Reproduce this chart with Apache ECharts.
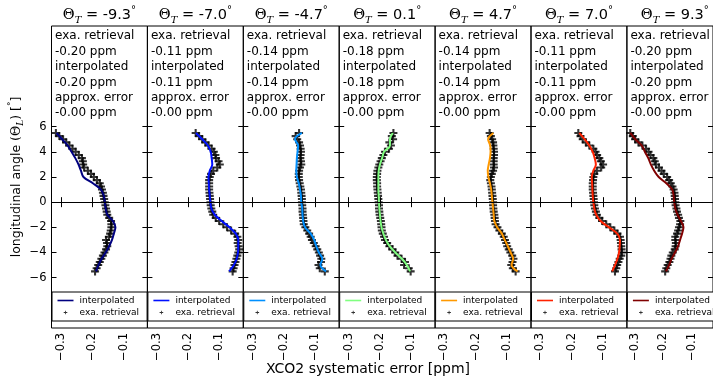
<!DOCTYPE html>
<html><head><meta charset="utf-8">
<script src="https://cdn.jsdelivr.net/npm/echarts@6/dist/echarts.min.js"></script>
<style>html,body{margin:0;padding:0;background:#fff;}#c{width:713px;height:383px;}</style>
</head><body><div id="c"></div>
<script>
// ---------------- data ----------------
const thetaT = ['-9.3', '-7.0', '-4.7', '0.1', '4.7', '7.0', '9.3'];
const exaMean = ['-0.20', '-0.11', '-0.14', '-0.18', '-0.14', '-0.11', '-0.20'];
const interpMean = ['-0.20', '-0.11', '-0.14', '-0.18', '-0.14', '-0.11', '-0.20'];
const approxErr = ['-0.00', '-0.00', '-0.00', '-0.00', '-0.00', '-0.00', '-0.00'];
const xTicks = [-0.3, -0.2, -0.1];
const yTicks = [-6, -4, -2, 0, 2, 4, 6];

// longitudinal angles of the exact retrieval points
const yExa = [5.5, 5.25, 5.0, 4.75, 4.5, 4.25, 4.0, 3.75, 3.5, 3.25, 3.0, 2.75, 2.5, 2.25, 2.0, 1.75, 1.5, 1.25, 1.0, 0.75, 0.5, 0.25, 0.0,
  -0.25, -0.5, -0.75, -1.0, -1.25, -1.5, -1.75, -2.0, -2.25, -2.5, -2.75, -3.0, -3.25, -3.5, -3.75, -4.0, -4.25, -4.5, -4.75, -5.0, -5.25, -5.5];
// longitudinal angles of the interpolated curve
const yInterp = [5.5, 5.0, 4.5, 4.0, 3.5, 3.0, 2.5, 2.0, 1.5, 1.0, 0.5, 0.0, -0.5, -1.0, -1.5, -2.0, -2.5, -3.0, -3.5, -4.0, -4.5, -5.0, -5.5];

const exa_m93 = [-0.316,-0.305,-0.293,-0.283,-0.273,-0.263,-0.253,-0.243,-0.233,-0.230,-0.229,-0.226,-0.214,-0.204,-0.195,-0.185,-0.176,-0.172,-0.169,-0.166,-0.164,-0.162,-0.160,-0.158,-0.156,-0.154,-0.152,-0.146,-0.140,-0.139,-0.139,-0.141,-0.143,-0.147,-0.156,-0.153,-0.152,-0.156,-0.161,-0.166,-0.171,-0.176,-0.181,-0.186,-0.191];
const exa_m70 = [-0.176,-0.165,-0.155,-0.145,-0.135,-0.125,-0.118,-0.113,-0.111,-0.103,-0.099,-0.107,-0.120,-0.127,-0.131,-0.133,-0.133,-0.133,-0.133,-0.132,-0.131,-0.130,-0.129,-0.128,-0.126,-0.123,-0.120,-0.112,-0.101,-0.088,-0.076,-0.063,-0.050,-0.043,-0.040,-0.042,-0.039,-0.037,-0.040,-0.043,-0.046,-0.049,-0.052,-0.055,-0.058];
const exa_m47 = [-0.152,-0.163,-0.158,-0.152,-0.149,-0.147,-0.146,-0.147,-0.148,-0.146,-0.145,-0.149,-0.152,-0.153,-0.153,-0.152,-0.150,-0.148,-0.146,-0.145,-0.144,-0.143,-0.143,-0.142,-0.141,-0.141,-0.140,-0.139,-0.138,-0.137,-0.132,-0.126,-0.120,-0.115,-0.111,-0.105,-0.099,-0.094,-0.089,-0.085,-0.081,-0.082,-0.090,-0.086,-0.070];
const exa_p01 = [-0.157,-0.162,-0.158,-0.170,-0.165,-0.171,-0.184,-0.189,-0.194,-0.198,-0.202,-0.205,-0.208,-0.209,-0.210,-0.210,-0.209,-0.209,-0.208,-0.207,-0.206,-0.205,-0.204,-0.203,-0.203,-0.202,-0.201,-0.199,-0.197,-0.196,-0.195,-0.194,-0.191,-0.187,-0.184,-0.177,-0.170,-0.160,-0.151,-0.144,-0.131,-0.120,-0.123,-0.108,-0.102];
const exa_p47 = [-0.156,-0.152,-0.148,-0.145,-0.144,-0.143,-0.142,-0.142,-0.143,-0.143,-0.143,-0.142,-0.145,-0.149,-0.152,-0.154,-0.152,-0.150,-0.149,-0.148,-0.147,-0.146,-0.145,-0.145,-0.144,-0.143,-0.141,-0.140,-0.139,-0.137,-0.131,-0.125,-0.117,-0.111,-0.107,-0.103,-0.100,-0.095,-0.090,-0.084,-0.080,-0.083,-0.087,-0.082,-0.073];
const exa_p70 = [-0.179,-0.172,-0.165,-0.155,-0.144,-0.131,-0.124,-0.119,-0.112,-0.107,-0.100,-0.106,-0.120,-0.128,-0.131,-0.132,-0.133,-0.133,-0.133,-0.132,-0.131,-0.130,-0.129,-0.128,-0.126,-0.123,-0.120,-0.112,-0.103,-0.090,-0.077,-0.064,-0.054,-0.046,-0.044,-0.043,-0.042,-0.041,-0.040,-0.042,-0.047,-0.051,-0.055,-0.058,-0.062];
const exa_p93 = [-0.318,-0.309,-0.301,-0.289,-0.275,-0.262,-0.253,-0.246,-0.236,-0.231,-0.227,-0.216,-0.207,-0.199,-0.187,-0.180,-0.174,-0.168,-0.164,-0.161,-0.160,-0.159,-0.158,-0.157,-0.154,-0.152,-0.148,-0.145,-0.140,-0.141,-0.145,-0.148,-0.152,-0.158,-0.158,-0.156,-0.157,-0.160,-0.167,-0.172,-0.175,-0.179,-0.185,-0.190,-0.194];

const int_m93 = [-0.314,-0.296,-0.278,-0.266,-0.254,-0.244,-0.236,-0.228,-0.198,-0.172,-0.163,-0.160,-0.157,-0.152,-0.134,-0.126,-0.131,-0.137,-0.146,-0.157,-0.170,-0.180,-0.188];
const int_m70 = [-0.175,-0.155,-0.137,-0.128,-0.125,-0.123,-0.131,-0.135,-0.134,-0.133,-0.131,-0.129,-0.126,-0.115,-0.093,-0.068,-0.048,-0.040,-0.040,-0.041,-0.045,-0.054,-0.069];
const int_m47 = [-0.143,-0.165,-0.155,-0.157,-0.159,-0.160,-0.161,-0.159,-0.153,-0.149,-0.146,-0.145,-0.142,-0.141,-0.139,-0.133,-0.115,-0.104,-0.097,-0.089,-0.078,-0.084,-0.066];
const int_p01 = [-0.159,-0.168,-0.168,-0.187,-0.193,-0.200,-0.204,-0.205,-0.205,-0.205,-0.204,-0.203,-0.202,-0.200,-0.198,-0.195,-0.189,-0.181,-0.169,-0.151,-0.130,-0.114,-0.104];
const int_p47 = [-0.144,-0.161,-0.154,-0.153,-0.155,-0.159,-0.162,-0.160,-0.155,-0.151,-0.149,-0.147,-0.145,-0.143,-0.141,-0.132,-0.117,-0.108,-0.098,-0.089,-0.081,-0.086,-0.067];
const int_p70 = [-0.176,-0.159,-0.144,-0.133,-0.127,-0.123,-0.131,-0.136,-0.135,-0.134,-0.133,-0.131,-0.128,-0.122,-0.108,-0.081,-0.055,-0.046,-0.047,-0.049,-0.054,-0.062,-0.071];
const int_p93 = [-0.318,-0.300,-0.277,-0.266,-0.254,-0.245,-0.233,-0.217,-0.190,-0.169,-0.164,-0.162,-0.158,-0.150,-0.138,-0.129,-0.134,-0.141,-0.148,-0.159,-0.171,-0.180,-0.191];

const exaSets = [exa_m93, exa_m70, exa_m47, exa_p01, exa_p47, exa_p70, exa_p93];
const intSets = [int_m93, int_m70, int_m47, int_p01, int_p47, int_p70, int_p93];

// ---------------- styles / layout ----------------
const lineColors = ['#000080', '#0010ff', '#0090ff', '#80ff80', '#ff9900', '#ff2200', '#800000'];
const FONT = 'DejaVu Sans';
const P_LEFT = 51.5, P_W = 95.9, P_TOP = 26, P_H = 302;
const X_MIN = -0.33, X_MAX = -0.024, Y_MIN = -10, Y_MAX = 14;
const PLUS = 'path://M0,3.7H10V6.3H0ZM3.7,0H6.3V10H3.7Z';
const LEG_LINE = 'path://M0,0M17,10M0,4.2H16V5.8H0Z';
const LEG_PLUS = 'path://M0,0M17,10M6.2,4.6H9.8V5.4H6.2ZM7.6,3.2H8.4V6.8H7.6Z';
const minus = s => String(s).replace('-', '\u2212');

const grid = [], xAxis = [], yAxis = [], series = [], legend = [], title = [];
for (let i = 0; i < 7; i++) {
  const left = P_LEFT + i * P_W;
  grid.push({left: left, top: P_TOP, width: P_W, height: P_H, show: true,
    borderColor: '#000', borderWidth: 1, backgroundColor: 'transparent', containLabel: false});
  const tick = {show: true, inside: true, length: 5, customValues: xTicks, lineStyle: {color: '#000', width: 1}};
  xAxis.push({type: 'value', gridIndex: i, position: 'bottom', min: X_MIN, max: X_MAX,
    axisLine: {show: false}, splitLine: {show: false}, axisTick: tick,
    axisLabel: {show: true, customValues: xTicks, rotate: 90, margin: 5, fontSize: 11.5, color: '#000', fontFamily: FONT,
      formatter: v => minus(v.toFixed(1))}});
  xAxis.push({type: 'value', gridIndex: i, position: 'top', min: X_MIN, max: X_MAX,
    axisLine: {show: false}, splitLine: {show: false}, axisTick: tick, axisLabel: {show: false}});
  const ytick = {show: true, inside: true, length: 5, customValues: yTicks, lineStyle: {color: '#000', width: 1}};
  const yl = {type: 'value', gridIndex: i, position: 'left', min: Y_MIN, max: Y_MAX,
    axisLine: {show: false}, splitLine: {show: false}, axisTick: ytick,
    axisLabel: {show: i === 0, customValues: yTicks, margin: 5, fontSize: 11.5, color: '#000', fontFamily: FONT,
      formatter: v => minus(v)}};
  if (i === 0) {
    yl.name = '{a|longitudinal angle (}{th|Θ}{sub|L}{a|) [}{sup|°}{a|]}';
    yl.nameLocation = 'middle';
    yl.nameGap = 25;
    yl.nameRotate = 90;
    yl.nameTextStyle = {color: '#000', fontFamily: FONT, fontSize: 12.5,
      rich: {a: {fontSize: 12.5, fontFamily: FONT, color: '#000', lineHeight: 18},
        th: {fontSize: 12.5, fontFamily: 'DejaVu Serif', color: '#000', lineHeight: 18},
        sub: {fontSize: 9, fontFamily: 'DejaVu Serif', fontStyle: 'italic', color: '#000', verticalAlign: 'bottom', lineHeight: 12},
        sup: {fontSize: 9, fontFamily: FONT, color: '#000', verticalAlign: 'top', lineHeight: 12}}};
  }
  yAxis.push(yl);
  yAxis.push({type: 'value', gridIndex: i, position: 'right', min: Y_MIN, max: Y_MAX,
    axisLine: {show: false}, splitLine: {show: false}, axisTick: ytick, axisLabel: {show: false}});

  series.push({type: 'scatter', name: 'exa. retrieval', xAxisIndex: 2 * i, yAxisIndex: 2 * i,
    data: yExa.map((y, k) => [exaSets[i][k], y]), symbol: PLUS, symbolSize: 8,
    itemStyle: {color: '#000'}, z: 2, silent: true});
  series.push({type: 'line', name: 'interpolated', xAxisIndex: 2 * i, yAxisIndex: 2 * i,
    data: yInterp.map((y, k) => [intSets[i][k], y]), showSymbol: false, smooth: 0.35,
    lineStyle: {color: lineColors[i], width: 2}, itemStyle: {color: lineColors[i]}, z: 3, silent: true,
    markLine: {silent: true, symbol: ['none', 'none'], label: {show: false},
      lineStyle: {color: '#000', width: 1, type: 'solid'}, data: [{yAxis: 0}]}});

  legend.push({orient: 'vertical', left: left + 0.5, top: 292, padding: [3.5, 8, 3.5, 5.5],
    itemGap: 2, itemWidth: 17, itemHeight: 10, selectedMode: false,
    backgroundColor: '#fff', borderColor: '#000', borderWidth: 1, borderRadius: 0,
    textStyle: {fontSize: 9, color: '#000', fontFamily: FONT},
    itemStyle: {borderWidth: 0},
    data: [{name: 'interpolated', icon: LEG_LINE, itemStyle: {color: lineColors[i], borderWidth: 0}},
           {name: 'exa. retrieval', icon: LEG_PLUS, itemStyle: {color: '#000', borderWidth: 0}}]});

  title.push({text: '{th|Θ}{sub|T}{n| = ' + thetaT[i] + '}{sup|°}', left: left + P_W / 2, top: 5,
    textAlign: 'center', padding: 0,
    textStyle: {fontSize: 14.5, fontWeight: 'normal', color: '#000', fontFamily: FONT,
      rich: {th: {fontSize: 14.5, fontFamily: 'DejaVu Serif', color: '#000', lineHeight: 20},
        sub: {fontSize: 10, fontFamily: 'DejaVu Serif', fontStyle: 'italic', color: '#000', verticalAlign: 'bottom', lineHeight: 14},
        n: {fontSize: 14.5, fontFamily: FONT, color: '#000', lineHeight: 20},
        sup: {fontSize: 10, fontFamily: FONT, color: '#000', verticalAlign: 'top', lineHeight: 14}}}});
  title.push({text: ['exa. retrieval', exaMean[i] + ' ppm', 'interpolated', interpMean[i] + ' ppm', 'approx. error', approxErr[i] + ' ppm'].join('\n'),
    left: left + 3.5, top: 28.5, padding: 0,
    textStyle: {fontSize: 12, fontWeight: 'normal', lineHeight: 15.4, color: '#000', fontFamily: FONT}});
}
title.push({text: 'XCO2 systematic error [ppm]', left: 368, top: 362, textAlign: 'center', padding: 0,
  textStyle: {fontSize: 14, fontWeight: 'normal', color: '#000', fontFamily: FONT}});

const chart = echarts.init(document.getElementById('c'), null, {renderer: 'canvas'});
chart.setOption({animation: false, backgroundColor: '#fff', grid, xAxis, yAxis, series, legend, title});
</script></body></html>
